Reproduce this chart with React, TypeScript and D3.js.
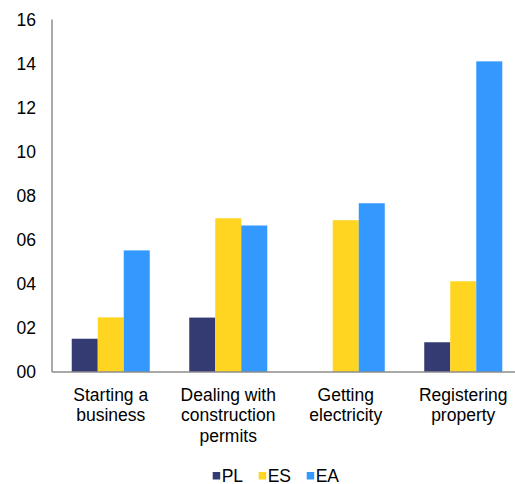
import React from "react";
import * as d3 from "d3";

const categories: string[][] = [
  ["Starting a", "business"],
  ["Dealing with", "construction", "permits"],
  ["Getting", "electricity"],
  ["Registering", "property"],
];
const seriesNames = ["PL", "ES", "EA"];
const PL = [1.51, 2.47, null, 1.35];
const ES = [2.48, 6.98, 6.89, 4.12];
const EA = [5.52, 6.65, 7.66, 14.1];
const yTicks = [0, 2, 4, 6, 8, 10, 12, 14, 16];
const yTickLabels = ["00", "02", "04", "06", "08", "10", "12", "14", "16"];
const colors = ["#343B73", "#FFD522", "#3399FF"];

const W = 515;
const H = 484;

export default function App() {
  const series = [PL, ES, EA];
  const x = d3.scaleBand<number>().domain(d3.range(categories.length)).range([52, 522]).paddingInner(0.336).paddingOuter(0.168);
  const inner = d3.scaleBand<number>().domain(d3.range(seriesNames.length)).range([0, x.bandwidth()]);
  const y = d3.scaleLinear().domain([0, 16]).range([372, 19.5]);
  const font = "Liberation Sans, Arial, sans-serif";
  const fs = 17.5;
  const legendX = [212.7, 258.7, 306.7];
  return (
    <svg width={W} height={H} style={{ position: "absolute", left: 0, top: 0 }} fontFamily={font}>
      <rect width={W} height={H} fill="#fff" />
      {series.map((s, si) =>
        s.map((v, ci) =>
          v == null ? null : (
            <rect
              key={`${si}-${ci}`}
              x={(x(ci) as number) + (inner(si) as number)}
              y={y(v)}
              width={inner.bandwidth()}
              height={y(0) - y(v)}
              fill={colors[si]}
            />
          )
        )
      )}
      <line x1={52} x2={52} y1={y(16)} y2={y(0)} stroke="#8c8c8c" strokeWidth={1.5} />
      <line x1={52} x2={W} y1={y(0)} y2={y(0)} stroke="#8c8c8c" strokeWidth={1.5} />
      {yTicks.map((t, i) => (
        <text key={t} x={36} y={y(t)} textAnchor="end" dominantBaseline="central" fontSize={fs} fill="#000">
          {yTickLabels[i]}
        </text>
      ))}
      {categories.map((lines, ci) => (
        <text key={ci} textAnchor="middle" fontSize={fs} fill="#000">
          {lines.map((l, li) => (
            <tspan key={li} x={(x(ci) as number) + x.bandwidth() / 2} y={400.5 + li * 20.5}>
              {l}
            </tspan>
          ))}
        </text>
      ))}
      {seriesNames.map((n, i) => (
        <g key={n}>
          <rect x={legendX[i]} y={472} width={7.5} height={7.5} fill={colors[i]} />
          <text x={legendX[i] + 9} y={481.5} fontSize={fs} fill="#000">
            {n}
          </text>
        </g>
      ))}
    </svg>
  );
}
